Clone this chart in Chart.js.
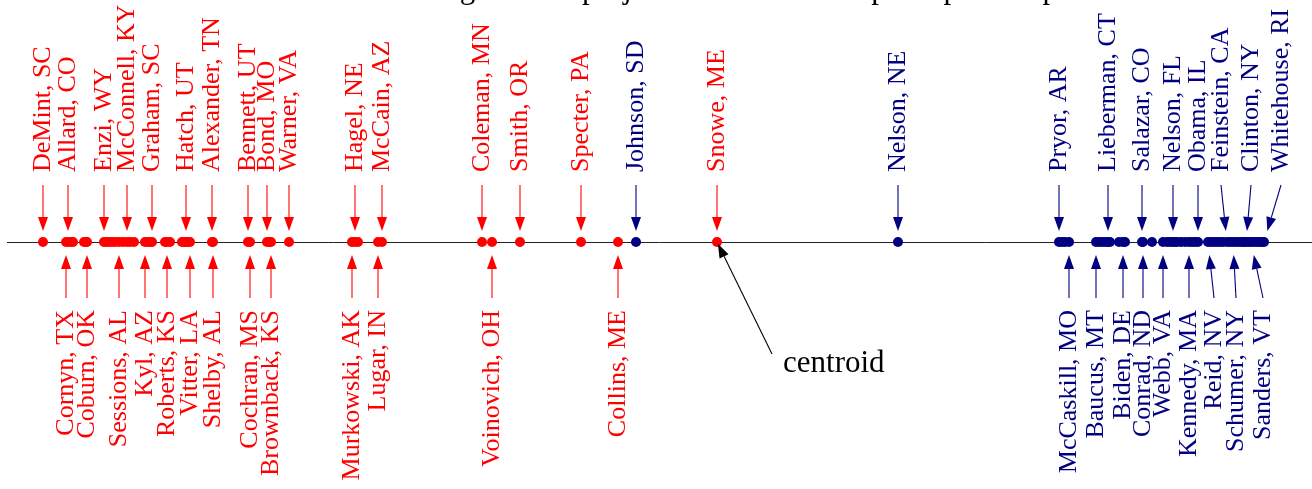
<!DOCTYPE html>
<html>
<head>
<meta charset="utf-8">
<script src="https://cdn.jsdelivr.net/npm/chart.js"></script>
<style>
html, body { margin: 0; padding: 0; background: #fff; overflow: hidden; }
#wrap { width: 1312px; height: 489px; position: relative; }
#chart { display: block; }
</style>
</head>
<body>
<div id="wrap"><canvas id="chart"></canvas></div>
<script>
// senators' positions on the projection line (centroid = 0)
const repTopNames = ['DeMint, SC', 'Allard, CO', 'Enzi, WY', 'McConnell, KY', 'Graham, SC', 'Hatch, UT', 'Alexander, TN',
    'Bennett, UT', 'Bond, MO', 'Warner, VA', 'Hagel, NE', 'McCain, AZ', 'Coleman, MN', 'Smith, OR', 'Specter, PA', 'Snowe, ME'];
const repTopScores = [-6.74, -6.49, -6.13, -5.90, -5.65, -5.31, -5.05, -4.69, -4.50, -4.28, -3.62, -3.35, -2.35, -1.97, -1.36, 0.00];
const repBottomNames = ['Cornyn, TX', 'Coburn, OK', 'Sessions, AL', 'Kyl, AZ', 'Roberts, KS', 'Vitter, LA', 'Shelby, AL',
    'Cochran, MS', 'Brownback, KS', 'Murkowski, AK', 'Lugar, IN', 'Voinovich, OH', 'Collins, ME'];
const repBottomScores = [-6.51, -6.30, -5.98, -5.72, -5.50, -5.27, -5.04, -4.67, -4.46, -3.65, -3.39, -2.25, -0.99];
const repOtherScores = [-6.46, -6.44, -6.33, -6.31, -6.11, -6.08, -6.05, -6.02, -5.94, -5.87, -5.83, -5.69, -5.67,
    -5.52, -5.47, -5.35, -5.33, -5.29, -4.48, -3.59];

const demTopNames = ['Johnson, SD', 'Nelson, NE', 'Pryor, AR', 'Lieberman, CT', 'Salazar, CO', 'Nelson, FL', 'Obama, IL',
    'Feinstein, CA', 'Clinton, NY', 'Whitehouse, RI'];
const demTopScores = [-0.81, 1.81, 3.42, 3.91, 4.25, 4.56, 4.81, 5.10, 5.29, 5.47];
const demBottomNames = ['McCaskill, MO', 'Baucus, MT', 'Biden, DE', 'Conrad, ND', 'Webb, VA', 'Kennedy, MA', 'Reid, NV',
    'Schumer, NY', 'Sanders, VT'];
const demBottomScores = [3.52, 3.79, 4.06, 4.26, 4.46, 4.72, 4.91, 5.16, 5.34];
const demOtherScores = [3.45, 3.48, 3.82, 3.85, 3.88, 3.93, 4.02, 4.08, 4.35, 4.50, 4.53, 4.58, 4.60, 4.64, 4.68, 4.75,
    4.78, 4.94, 4.97, 5.00, 5.03, 5.06, 5.13, 5.19, 5.22, 5.25, 5.27, 5.32, 5.37, 5.40, 5.43, 5.45];

const centroidScore = 0;
const titleText = "Senators' voting records projected onto the first principal component";

// 样式
const RED = '#ff0000';
const BLUE = '#000080';
const LABEL_FONT = '26px "Liberation Serif", "Times New Roman", serif';
const BIG_FONT = '31px "Liberation Serif", "Times New Roman", serif';

// labels pushed sideways (px) so the crowded ones do not collide
const labelShift = { 'Feinstein, CA': -6, 'Clinton, NY': 5, 'Whitehouse, RI': 17, 'Reid, NV': 6, 'Schumer, NY': 3, 'Sanders, VT': 12 };

function toPoints(names, scores, side) {
    return scores.map((s, i) => ({ x: s, y: 0, name: names ? names[i] : null, side: side }));
}

const repPoints = [].concat(
    toPoints(repTopNames, repTopScores, 'top'),
    toPoints(repBottomNames, repBottomScores, 'bottom'),
    toPoints(null, repOtherScores, null)
);
const demPoints = [].concat(
    toPoints(demTopNames, demTopScores, 'top'),
    toPoints(demBottomNames, demBottomScores, 'bottom'),
    toPoints(null, demOtherScores, null)
);

function drawArrow(ctx, x0, y0, x1, y1, color) {
    const dx = x1 - x0, dy = y1 - y0;
    const len = Math.hypot(dx, dy);
    const ux = dx / len, uy = dy / len;
    const hl = 14, hw = 5;
    const bx = x1 - ux * hl, by = y1 - uy * hl;
    ctx.strokeStyle = color;
    ctx.fillStyle = color;
    ctx.lineWidth = 1.1;
    ctx.beginPath();
    ctx.moveTo(x0, y0);
    ctx.lineTo(bx, by);
    ctx.stroke();
    ctx.beginPath();
    ctx.moveTo(x1, y1);
    ctx.lineTo(bx - uy * hw, by + ux * hw);
    ctx.lineTo(bx + uy * hw, by - ux * hw);
    ctx.closePath();
    ctx.fill();
}

const senateLabels = {
    id: 'senateLabels',
    beforeDatasetsDraw(chart) {
        const ctx = chart.ctx;
        const area = chart.chartArea;
        const y0 = Math.round(chart.scales.y.getPixelForValue(0)) + 0.5;
        ctx.save();
        ctx.strokeStyle = '#222';
        ctx.lineWidth = 1;
        ctx.beginPath();
        ctx.moveTo(area.left, y0);
        ctx.lineTo(area.right, y0);
        ctx.stroke();
        ctx.restore();
    },
    afterDatasetsDraw(chart) {
        const ctx = chart.ctx;
        const xs = chart.scales.x;
        const yLine = chart.scales.y.getPixelForValue(0);
        ctx.save();
        ctx.font = LABEL_FONT;

        chart.data.datasets.forEach(ds => {
            ds.data.forEach(p => {
                if (!p.name) return;
                const px = xs.getPixelForValue(p.x);
                const lx = px + (labelShift[p.name] || 0);
                const color = ds.backgroundColor;
                if (p.side === 'top') {
                    const tail = 185, tip = 231;
                    const t = (tip - tail) / (yLine - tail);
                    drawArrow(ctx, lx, tail, lx + (px - lx) * t, tip, color);
                    ctx.save();
                    ctx.translate(lx + 7, 172);
                    ctx.rotate(-Math.PI / 2);
                    ctx.fillStyle = color;
                    ctx.textAlign = 'left';
                    ctx.textBaseline = 'alphabetic';
                    ctx.fillText(p.name, 0, 0);
                    ctx.restore();
                } else {
                    const tail = 298, tip = 255;
                    const t = (tail - tip) / (tail - yLine);
                    drawArrow(ctx, lx, tail, lx + (px - lx) * t, tip, color);
                    ctx.save();
                    ctx.translate(lx + 7, 310);
                    ctx.rotate(-Math.PI / 2);
                    ctx.fillStyle = color;
                    ctx.textAlign = 'right';
                    ctx.textBaseline = 'alphabetic';
                    ctx.fillText(p.name, 0, 0);
                    ctx.restore();
                }
            });
        });

        // centroid
        const cx = xs.getPixelForValue(centroidScore);
        const tx = 772, ty = 354;
        const ddx = cx - tx, ddy = yLine - ty, dl = Math.hypot(ddx, ddy);
        drawArrow(ctx, tx, ty, cx - ddx / dl * 2, yLine - ddy / dl * 2, '#000');
        ctx.font = BIG_FONT;
        ctx.fillStyle = '#000';
        ctx.textAlign = 'left';
        ctx.textBaseline = 'alphabetic';
        ctx.fillText('centroid', 783, 372);

        // title, mostly cut off by the top edge
        const prefix = "Senators' voting records ";
        ctx.fillText(titleText, 582 - ctx.measureText(prefix).width, -2);
        ctx.restore();
    }
};

new Chart(document.getElementById('chart'), {
    type: 'scatter',
    data: {
        datasets: [
            { label: 'Republican', data: repPoints, backgroundColor: RED, pointRadius: 5, pointHoverRadius: 5, borderWidth: 0, clip: false },
            { label: 'Democrat', data: demPoints, backgroundColor: BLUE, pointRadius: 5, pointHoverRadius: 5, borderWidth: 0, clip: false }
        ]
    },
    options: {
        responsive: true,
        maintainAspectRatio: false,
        animation: false,
        events: [],
        layout: { autoPadding: false, padding: { left: 7, right: 0, top: 0, bottom: 5 } },
        scales: {
            x: { type: 'linear', display: false, min: -7.10, max: 5.95 },
            y: { type: 'linear', display: false, min: -1, max: 1 }
        },
        plugins: {
            legend: { display: false },
            tooltip: { enabled: false },
            title: { display: false }
        }
    },
    plugins: [senateLabels]
});
</script>
</body>
</html>
